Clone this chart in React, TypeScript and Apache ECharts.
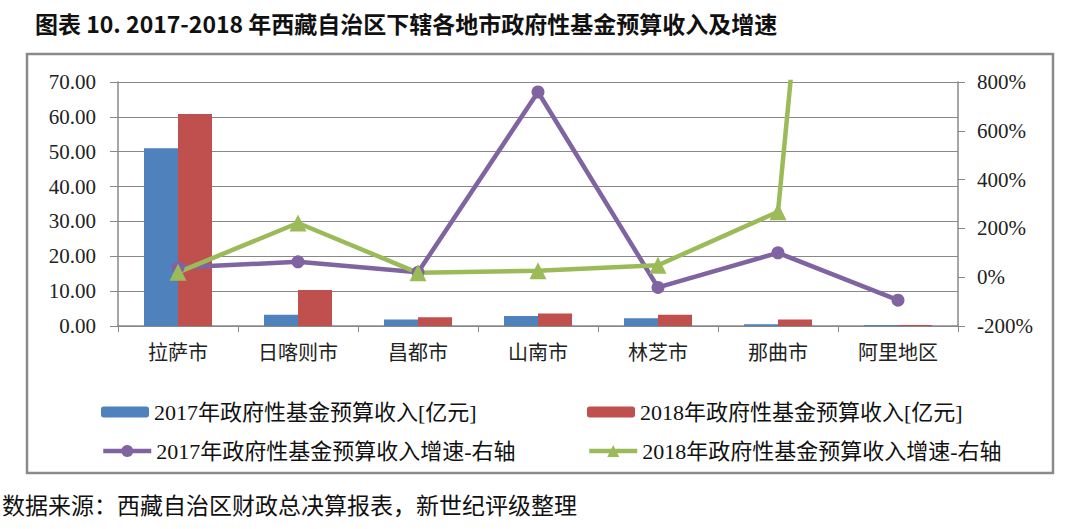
import React, { useEffect, useRef } from "react";
import * as echarts from "echarts";

const categories = ["拉萨市", "日喀则市", "昌都市", "山南市", "林芝市", "那曲市", "阿里地区"];
const revenue2017 = [51.0, 3.2, 1.9, 2.9, 2.2, 0.5, 0.3];
const revenue2018 = [60.8, 10.3, 2.5, 3.6, 3.2, 1.9, 0.3];
const growth2017 = [40, 63, 20, 759, -42, 100, -94];
const growth2018 = [20, 222, 18, 26, 49, 268, 5400];

const names = [
  "2017年政府性基金预算收入[亿元]",
  "2018年政府性基金预算收入[亿元]",
  "2017年政府性基金预算收入增速-右轴",
  "2018年政府性基金预算收入增速-右轴",
];

const titleText = "图表 10. 2017-2018 年西藏自治区下辖各地市政府性基金预算收入及增速";
const sourceText = "数据来源：西藏自治区财政总决算报表，新世纪评级整理";

const SERIF = "'Liberation Serif', 'Noto Sans CJK SC', serif";
const CJK = "'Noto Sans CJK SC', sans-serif";

export default function App() {
  const ref = useRef<HTMLDivElement>(null);
  useEffect(() => {
    document.body.style.margin = "0";
    const chart = echarts.init(ref.current!, null, { renderer: "svg" });
    const legendText = { fontFamily: SERIF, fontSize: 22, color: "#111" };
    const mkLegend = (name: string, left: number, top: number, isLine: boolean) => ({
      data: [name],
      left,
      top,
      itemWidth: 48,
      itemHeight: isLine ? 15 : 11,
      itemGap: 0,
      textStyle: legendText,
      selectedMode: false,
      lineStyle: { width: 4.5 },
    });
    chart.setOption({
      animation: false,
      backgroundColor: "#fff",
      title: {
        text: titleText,
        left: 30,
        top: 6,
        textStyle: { fontFamily: CJK, fontWeight: "bold", fontSize: 23, color: "#111" },
      },
      graphic: [
        {
          type: "rect",
          shape: { x: 27, y: 54, width: 1026, height: 419 },
          style: { fill: "none", stroke: "#8a8a8a", lineWidth: 2.5 },
          z: -1,
        },
        {
          type: "text",
          left: 2,
          top: 492,
          style: { text: sourceText, fontFamily: CJK, fontSize: 23, fill: "#111" },
        },
      ],
      legend: [
        mkLegend(names[0], 96, 396, false),
        mkLegend(names[1], 582, 396, false),
        mkLegend(names[2], 96, 435, true),
        mkLegend(names[3], 582, 435, true),
      ],
      grid: { left: 118, right: 122, top: 82, bottom: 203, containLabel: false },
      xAxis: {
        type: "category",
        data: categories,
        axisLine: { lineStyle: { color: "#888", width: 1.5 } },
        axisTick: { show: true, length: 6, lineStyle: { color: "#888" } },
        axisLabel: { fontFamily: CJK, fontSize: 20, color: "#222", margin: 15 },
      },
      yAxis: [
        {
          type: "value",
          min: 0,
          max: 70,
          interval: 10,
          axisLine: { show: true, lineStyle: { color: "#888", width: 1.5 } },
          axisTick: { show: true, length: 8, lineStyle: { color: "#888" } },
          splitLine: { show: true, lineStyle: { color: "#888", width: 1.2 } },
          axisLabel: {
            fontFamily: SERIF,
            fontSize: 21,
            color: "#222",
            margin: 22,
            formatter: (v: number) => v.toFixed(2),
          },
        },
        {
          type: "value",
          min: -200,
          max: 800,
          interval: 200,
          position: "right",
          axisLine: { show: true, lineStyle: { color: "#888", width: 1.5 } },
          axisTick: { show: true, length: 7, lineStyle: { color: "#888" } },
          splitLine: { show: false },
          axisLabel: {
            fontFamily: SERIF,
            fontSize: 21,
            color: "#222",
            margin: 19,
            formatter: (v: number) => v + "%",
          },
        },
      ],
      series: [
        {
          name: names[0],
          type: "bar",
          data: revenue2017,
          barWidth: 34,
          barGap: "0%",
          barMinHeight: 1,
          itemStyle: { color: "#4F81BD" },
        },
        {
          name: names[1],
          type: "bar",
          data: revenue2018,
          barWidth: 34,
          barGap: "0%",
          barMinHeight: 1,
          itemStyle: { color: "#C0504D" },
        },
        {
          name: names[2],
          type: "line",
          yAxisIndex: 1,
          data: growth2017,
          symbol: "circle",
          symbolSize: 13,
          clip: true,
          lineStyle: { color: "#8064A2", width: 4.5 },
          itemStyle: { color: "#8064A2" },
        },
        {
          name: names[3],
          type: "line",
          yAxisIndex: 1,
          data: growth2018,
          symbol: "triangle",
          symbolSize: 17,
          clip: true,
          lineStyle: { color: "#9BBB59", width: 4.5 },
          itemStyle: { color: "#9BBB59" },
        },
      ],
    });
    return () => chart.dispose();
  }, []);
  return (
    <div
      ref={ref}
      style={{ position: "absolute", left: 0, top: 0, width: 1080, height: 529 }}
    />
  );
}
